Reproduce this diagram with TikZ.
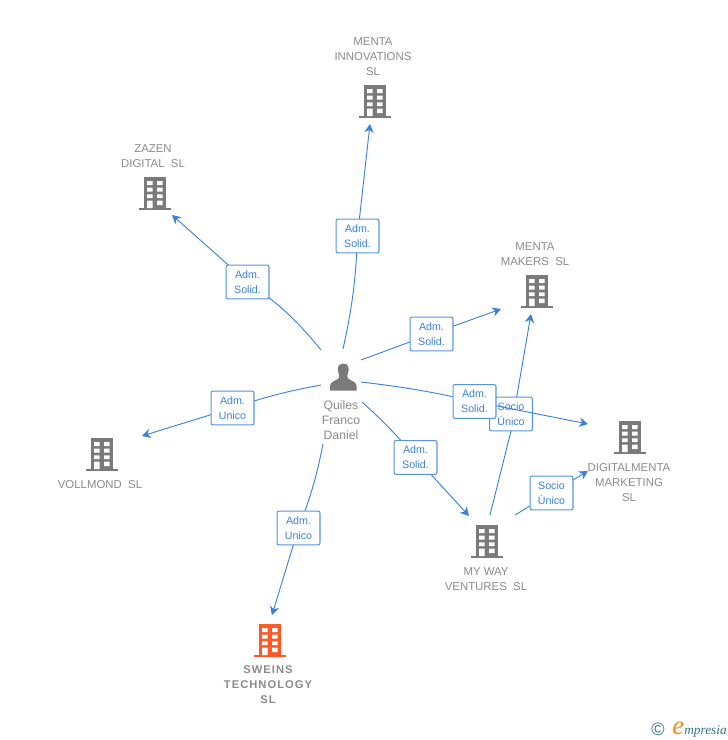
\documentclass[tikz,border=0pt]{standalone}
\usepackage{fontspec}
\setmainfont{Liberation Sans}
\newfontfamily\logofont{Liberation Serif}
\newfontfamily\spacedbold[LetterSpace=9]{Liberation Sans Bold}
\usepackage{tikz}
\usetikzlibrary{arrows.meta, backgrounds}
\definecolor{linkblue}{HTML}{3B82DC}
\definecolor{iconGrey}{HTML}{7A7A7A}
\definecolor{txtGrey}{HTML}{8A8A8A}
\definecolor{mainOrange}{HTML}{FF5A26}
\definecolor{logoTeal}{HTML}{2F7290}
\definecolor{logoOrange}{HTML}{F08A1D}
\tikzset{
    bldg/.pic={
        \fill[pic actions] (0,0) rectangle (22,31);
        \fill[pic actions] (-5,31) rectangle (27,33);
        \fill[white] (3,4) rectangle (8.5,8) (13,4) rectangle (18.5,8);
        \fill[white] (3,10.7) rectangle (8.5,14.5) (13,10.7) rectangle (18.5,14.5);
        \fill[white] (3,17.3) rectangle (8.5,21) (13,17.3) rectangle (18.5,21);
        \fill[white] (3,23.7) rectangle (8.5,31) (13,23.7) rectangle (18.5,28);
    },
    link/.style={draw=linkblue, line width=0.7pt},
    linkto/.style={link, -{Stealth[length=6.5pt, width=7pt, inset=2pt]}},
    relbox/.style={draw=linkblue!85!white, line width=0.8pt, fill=white, rounded corners=1.5pt, minimum width=32.2pt, minimum height=25.4pt, inner sep=0pt, text=linkblue, font=\fontsize{8}{11.25}\selectfont, align=center},
    coname/.style={text=txtGrey, font=\fontsize{8.55}{11.25}\selectfont, align=center, inner sep=0pt},
}
\begin{document}
\begin{tikzpicture}[x=0.75pt, y=-0.75pt]
    \useasboundingbox (0,0) rectangle (728,740);

    % companies
    \pic[fill=iconGrey] at (364,85) {bldg};
    \pic[fill=iconGrey] at (144,177) {bldg};
    \pic[fill=iconGrey] at (526,275) {bldg};
    \pic[fill=iconGrey] at (619,421) {bldg};
    \pic[fill=iconGrey] at (91,438) {bldg};
    \pic[fill=iconGrey] at (476,525) {bldg};
    \pic[fill=mainOrange] at (259,624) {bldg};

    \node[coname] (innovations) at (373,57) {MENTA\\INNOVATIONS\\SL};
    \node[coname] (zazen) at (153,156) {ZAZEN\\DIGITAL\ \ SL};
    \node[coname] (makers) at (535,254) {MENTA\\MAKERS\ \ SL};
    \node[coname] (digitalmenta) at (629,483) {DIGITALMENTA\\MARKETING\\SL};
    \node[coname] (vollmond) at (100,485) {VOLLMOND\ \ SL};
    \node[coname] (myway) at (486,579) {MY WAY\\VENTURES\ \ SL};
    \node[coname, font=\fontsize{8.4}{11.25}\spacedbold] (sweins) at (268,685) {SWEINS\\TECHNOLOGY\\SL};

    % person
    \fill[iconGrey] (343.3,363.5) .. controls (337.5,363.5) and (337,369) .. (338.5,373)
        .. controls (339.2,375.5) and (339.5,377) .. (338.5,378.5)
        .. controls (335,381) and (330.5,381.5) .. (330,386) -- (330,390.7) -- (356.7,390.7) -- (356.7,386)
        .. controls (356,381.5) and (351.5,381) .. (348,378.5)
        .. controls (347,377) and (347.3,375.5) .. (348,373)
        .. controls (349.5,369) and (349,363.5) .. (343.3,363.5) -- cycle;
    \node[coname, font=\fontsize{9.2}{11.25}\selectfont] (quiles) at (341,420) {Quiles\\Franco\\Daniel};

    % free ends of the links
    \coordinate (qinnov) at (343,349);
    \coordinate (qzazen) at (321,350);
    \coordinate (qmakers) at (361,360);
    \coordinate (qdigital) at (361,382);
    \coordinate (qvoll) at (321,385);
    \coordinate (qsweins) at (323,444);
    \coordinate (qmyway) at (362,402);
    \coordinate (mwmakers) at (490,515);
    \coordinate (mwdigital) at (515,515);
    \coordinate (smin) at (511,431);
    \coordinate (smout) at (516.7,397);
    \coordinate (tinnov) at (370,124);
    \coordinate (tzazen) at (172,215);
    \coordinate (tmakers) at (501,309);
    \coordinate (tdigital) at (588,424);
    \coordinate (tvoll) at (142,436);
    \coordinate (tsweins) at (272,615);
    \coordinate (tmyway) at (469,516);
    \coordinate (tmwmakers) at (531,314);
    \coordinate (tmwdigital) at (588,471);

    % relation boxes
    \node[relbox] (rinnov) at (357.5,236) {Adm.\\Solid.};
    \node[relbox] (rzazen) at (247.5,282) {Adm.\\Solid.};
    \node[relbox] (rmakers) at (431.5,334) {Adm.\\Solid.};
    \node[relbox] (rdigital) at (474.5,401.5) {Adm.\\Solid.};
    \node[relbox] (rvoll) at (232.5,408) {Adm.\\Unico};
    \node[relbox] (rsweins) at (298.5,528) {Adm.\\Unico};
    \node[relbox] (rmyway) at (415.5,457.5) {Adm.\\Solid.};
    \node[relbox] (rmwdigital) at (551.5,493) {Socio\\Único};

    \begin{scope}[on background layer]
        \draw[link] (qinnov) to[bend right=5] (rinnov.center);
        \draw[linkto] (rinnov.center) -- (tinnov);
        \draw[link] (qzazen) to[bend right=8] (rzazen.center);
        \draw[linkto] (rzazen.center) -- (tzazen);
        \draw[link] (qmakers) -- (rmakers.center);
        \draw[linkto] (rmakers.center) -- (tmakers);
        \draw[link] (qvoll) to[bend right=4] (rvoll.center);
        \draw[linkto] (rvoll.center) -- (tvoll);
        \draw[link] (qsweins) to[bend left=5] (rsweins.center);
        \draw[linkto] (rsweins.center) -- (tsweins);
        \draw[link] (qmyway) to[bend left=4] (rmyway.center);
        \draw[linkto] (rmyway.center) -- (tmyway);
        \draw[link] (mwdigital) -- (rmwdigital.center);
        \draw[linkto] (rmwdigital.center) -- (tmwdigital);
        % this box lies under the next link and over its own
        \draw[link] (mwmakers) -- (smin);
        \draw[linkto] (smout) -- (tmwmakers);
        \node[relbox] (rmwmakers) at (511,414) {Socio\\Único};
        \draw[link] (qdigital) to[bend left=3] (rdigital.center);
        \draw[linkto] (rdigital.center) -- (tdigital);
    \end{scope}

    % logo
    \node[text=logoTeal, inner sep=0pt, font=\fontsize{13.5}{13.5}\selectfont] (logoc) at (658,729) {©};
    \node[text=logoOrange, inner sep=0pt, anchor=base west, font=\fontsize{20}{20}\logofont\itshape] (logoe) at (672,734) {e};
    \node[text=logoTeal, inner sep=0pt, anchor=base west, font=\fontsize{10}{10}\logofont\itshape] (logotxt) at (684,734) {mpresia};
\end{tikzpicture}
\end{document}
